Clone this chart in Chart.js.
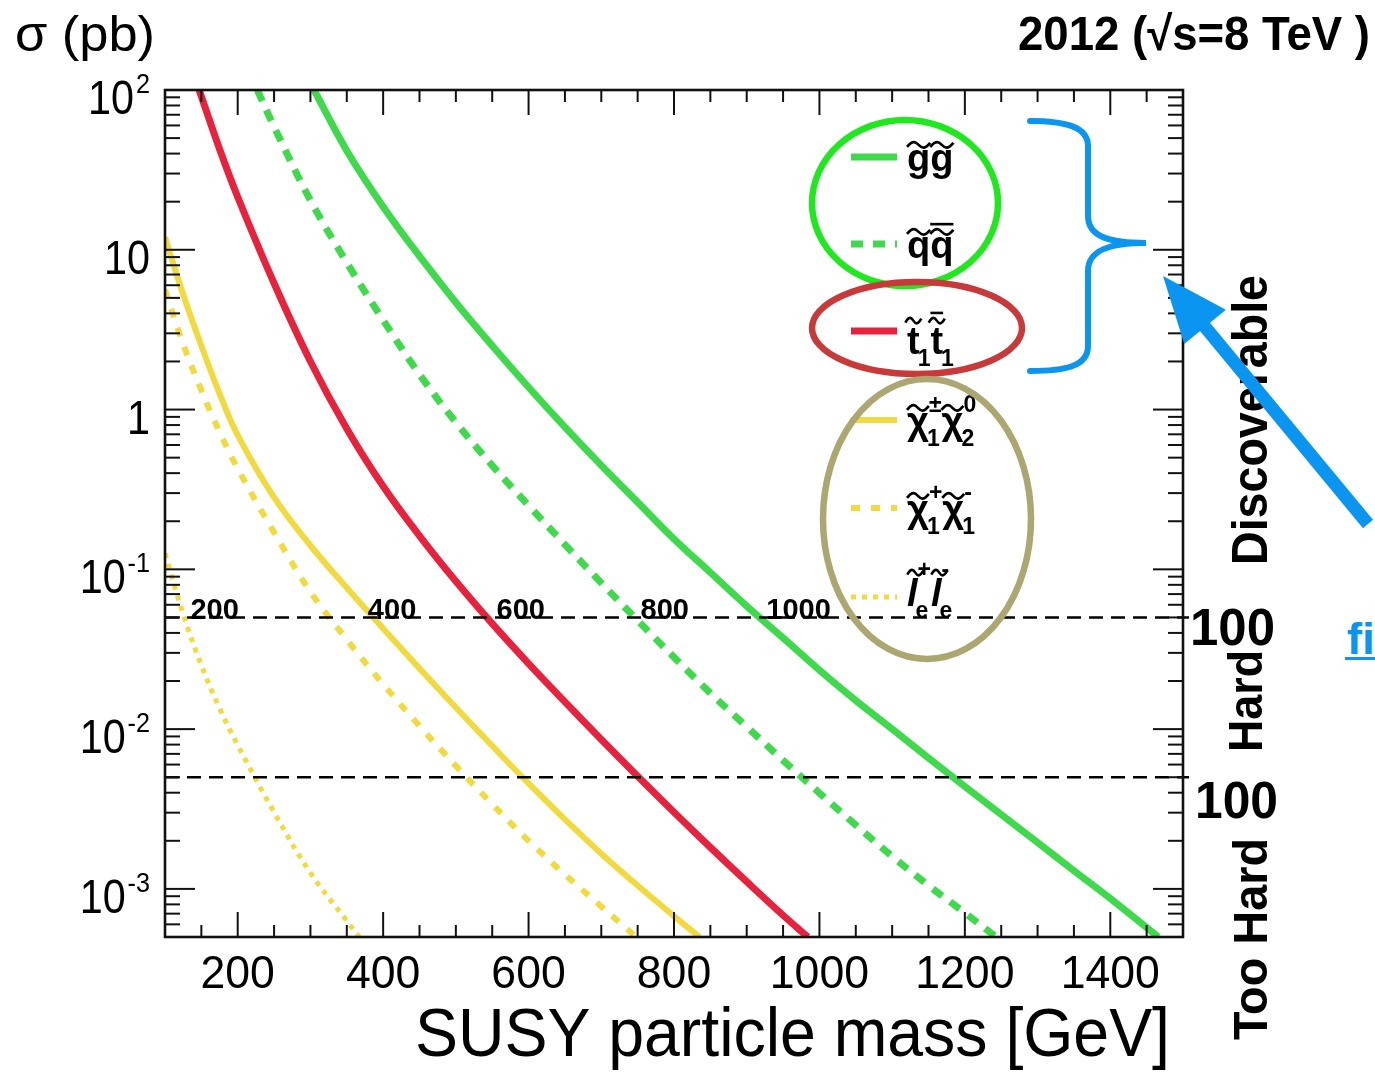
<!DOCTYPE html>
<html>
<head>
<meta charset="utf-8">
<script src="https://cdn.jsdelivr.net/npm/chart.js@4.4.1/dist/chart.umd.min.js"></script>
<style>
  html, body { margin: 0; padding: 0; background: #fff; }
  canvas { display: block; }
</style>
</head>
<body>
<canvas id="c" width="1375" height="1074"></canvas>
<script>
// cross sections (pb) vs SUSY particle mass (GeV)
const gluinoMass  = [305, 350, 400, 450, 500, 550, 600, 650, 700, 750, 800, 850, 900, 950, 1000,
                     1050, 1100, 1150, 1200, 1250, 1300, 1350, 1400, 1466];
const gluinoXsec  = [100, 41.7, 18.6, 9.12, 4.68, 2.51, 1.38, 0.776, 0.447, 0.263, 0.155, 0.0955, 0.0589,
                     0.0372, 0.0234, 0.0151, 0.01, 0.0066, 0.00437, 0.00292, 0.00195, 0.0013, 0.00087, 0.0005];

const squarkMass  = [227, 250, 300, 350, 400, 450, 500, 550, 600, 650, 700, 750, 800, 850, 900, 950,
                     1000, 1050, 1100, 1150, 1200, 1243];
const squarkXsec  = [100, 58.9, 20.4, 8.32, 3.63, 1.66, 0.832, 0.447, 0.251, 0.143, 0.0822, 0.0479, 0.0282,
                     0.0168, 0.01035, 0.00638, 0.00398, 0.00251, 0.0016, 0.00105, 0.000708, 0.0005];

const stopMass    = [147, 175, 200, 250, 300, 350, 400, 450, 500, 550, 600, 650, 700, 750, 800, 850,
                     900, 950, 984];
const stopXsec    = [100, 42.7, 21.4, 6.17, 2.0, 0.759, 0.331, 0.162, 0.0841, 0.0457, 0.0257, 0.0148,
                     0.00861, 0.00507, 0.00302, 0.00182, 0.00111, 0.000684, 0.0005];

const c1n2Mass    = [100, 125, 150, 175, 200, 250, 300, 350, 400, 450, 500, 550, 600, 650, 700, 750, 800, 835];
const c1n2Xsec    = [12.0, 5.25, 2.51, 1.26, 0.692, 0.282, 0.141, 0.0767, 0.0427, 0.024, 0.01365, 0.00785,
                     0.00457, 0.00272, 0.00166, 0.00105, 0.000676, 0.0005];

const c1c1Mass    = [100, 125, 150, 175, 200, 250, 300, 350, 400, 450, 500, 550, 600, 650, 700, 748];
const c1c1Xsec    = [5.62, 2.57, 1.32, 0.724, 0.427, 0.17, 0.0724, 0.0363, 0.0191, 0.01047, 0.00589,
                     0.00339, 0.002, 0.00123, 0.000776, 0.0005];

const sleptonMass = [100, 125, 150, 175, 200, 250, 300, 350, 367];
const sleptonXsec = [0.126, 0.0525, 0.0251, 0.0135, 0.00794, 0.00302, 0.00126, 0.000631, 0.0005];

// axis ticks
const xTickVals = [200, 400, 600, 800, 1000, 1200, 1400];
const yTickVals = [100, 10, 1, 0.1, 0.01, 0.001];
const yTickMain = ['10', '10', '1', '10', '10', '10'];
const yTickSup  = ['2', '', '', '-1', '-2', '-3'];

// reach lines and their labels
const thresholds = [0.05, 0.005];
const reachText  = ['200', '400', '600', '800', '1000'];
const reachMass  = [135, 379, 556, 754, 927];

const GREEN = '#3fd94c';
const RED = '#e8213d';
const YELLOW = '#f2da3e';
const BLUE = '#0a96f0';
const FONT = '"Liberation Sans", Arial, Helvetica, sans-serif';

const series = [
  { label: 'g̃g̃', mass: gluinoMass, xsec: gluinoXsec, color: GREEN, width: 7, dash: [] },
  { label: 'q̃q̃̄', mass: squarkMass, xsec: squarkXsec, color: GREEN, width: 7, dash: [12, 10] },
  { label: 't̃1t̃̄1', mass: stopMass, xsec: stopXsec, color: RED, width: 7, dash: [] },
  { label: 'χ̃1±χ̃20', mass: c1n2Mass, xsec: c1n2Xsec, color: YELLOW, width: 6, dash: [] },
  { label: 'χ̃1+χ̃1-', mass: c1c1Mass, xsec: c1c1Xsec, color: YELLOW, width: 6, dash: [9, 11] },
  { label: 'l̃e+l̃e-', mass: sleptonMass, xsec: sleptonXsec, color: YELLOW, width: 5, dash: [5, 6] }
];

// legend entries (drawn by hand, ROOT style)
const legendItems = [
  { y: 157, base: 171, s: 0, parts: [{ c: 'g', tl: 1 }, { c: 'g', tl: 1 }] },
  { y: 244, base: 258, s: 1, parts: [{ c: 'q', tl: 1 }, { c: 'q', tl: 1, bar: 1 }] },
  { y: 331, base: 354, s: 2, parts: [{ c: 't', tl: 1, tall: 1, sub: '1' }, { c: 't', tl: 1, tall: 1, bar: 1, sub: '1' }] },
  { y: 420, base: 434, s: 3, parts: [{ c: 'χ', tl: 1, sub: '1', sup: '±' }, { c: 'χ', tl: 1, sub: '2', sup: '0' }] },
  { y: 508, base: 522, s: 4, parts: [{ c: 'χ', tl: 1, sub: '1', sup: '+' }, { c: 'χ', tl: 1, sub: '1', sup: '-' }] },
  { y: 597, base: 606, s: 5, parts: [{ c: 'l', tl: 1, tall: 1, it: 1, sub: 'e', sup: '+' }, { c: 'l', tl: 1, tall: 1, it: 1, sub: 'e', sup: '-' }] }
];

function fitText(ctx, text, left, baseline, width, font, color) {
  ctx.save();
  ctx.font = font;
  ctx.fillStyle = color || '#000';
  ctx.textAlign = 'left';
  ctx.textBaseline = 'alphabetic';
  const w = ctx.measureText(text).width;
  ctx.translate(left, baseline);
  ctx.scale(width / w, 1);
  ctx.fillText(text, 0, 0);
  ctx.restore();
}

function rotText(ctx, text, baseX, startY, endY, font) {
  ctx.save();
  ctx.font = font;
  ctx.fillStyle = '#000';
  const w = ctx.measureText(text).width;
  ctx.translate(baseX, startY);
  ctx.rotate(-Math.PI / 2);
  ctx.scale((startY - endY) / w, 1);
  ctx.fillText(text, 0, 0);
  ctx.restore();
}

function seg(ctx, x1, y1, x2, y2) {
  ctx.beginPath();
  ctx.moveTo(x1, y1);
  ctx.lineTo(x2, y2);
  ctx.stroke();
}

function drawTilde(ctx, cx, cy, w) {
  ctx.beginPath();
  ctx.moveTo(cx - w / 2, cy + 2);
  ctx.bezierCurveTo(cx - w / 4, cy - 5, cx - w / 8, cy - 3, cx, cy);
  ctx.bezierCurveTo(cx + w / 8, cy + 3, cx + w / 4, cy + 5, cx + w / 2, cy - 2);
  ctx.stroke();
}

function drawSusy(ctx, x, base, parts, fs) {
  let cx = x;
  ctx.fillStyle = '#000';
  ctx.strokeStyle = '#000';
  ctx.lineWidth = 2.6;
  parts.forEach(p => {
    ctx.font = (p.it ? 'italic ' : '') + 'bold ' + fs + 'px ' + FONT;
    const w = ctx.measureText(p.c).width;
    ctx.fillText(p.c, cx, base);
    const top = base - (p.tall ? 0.72 : 0.53) * fs;
    const mid = cx + w / 2 + (p.it ? 3 : 0);
    if (p.tl) drawTilde(ctx, mid, top - 6, Math.max(w, 16));
    if (p.bar) ctx.fillRect(mid - w / 2, top - 15, w, 2.6);
    ctx.font = 'bold ' + Math.round(fs * 0.6) + 'px ' + FONT;
    let adv = 0;
    if (p.sup) {
      ctx.fillText(p.sup, cx + w, top - 2);
      adv = Math.max(adv, ctx.measureText(p.sup).width);
    }
    if (p.sub) {
      ctx.fillText(p.sub, cx + w - 2, base + 0.32 * fs);
      adv = Math.max(adv, ctx.measureText(p.sub).width - 2);
    }
    cx += w + adv;
  });
}

const susyPlugin = {
  id: 'susy',
  afterDatasetsDraw(chart) {
    const { ctx, chartArea: a, scales: { x, y } } = chart;
    ctx.save();

    // reach lines
    ctx.strokeStyle = '#000';
    ctx.lineWidth = 2.4;
    ctx.setLineDash([14, 8]);
    thresholds.forEach(t => {
      const py = y.getPixelForValue(t);
      seg(ctx, a.left, py, a.right + 6, py);
    });
    ctx.setLineDash([]);

    ctx.fillStyle = '#000';
    ctx.font = 'bold 29px ' + FONT;
    const ly = y.getPixelForValue(thresholds[0]) + 2;
    reachText.forEach((t, i) => ctx.fillText(t, x.getPixelForValue(reachMass[i]), ly));

    // frame and inward ticks
    ctx.strokeStyle = '#111';
    ctx.lineWidth = 2;
    for (let m = 100; m <= 1500; m += 50) {
      const px = x.getPixelForValue(m);
      const len = m % 200 === 0 ? 25 : 12;
      seg(ctx, px, a.bottom, px, a.bottom - len);
      seg(ctx, px, a.top, px, a.top + len);
    }
    for (let e = -4; e <= 2; e++) {
      for (let k = 1; k <= 9; k++) {
        const v = k * Math.pow(10, e);
        if (v < 0.0005 * 0.999 || v > 100 * 1.001) continue;
        const py = y.getPixelForValue(v);
        const len = k === 1 ? 30 : 15;
        seg(ctx, a.left, py, a.left + len, py);
        seg(ctx, a.right, py, a.right - len, py);
      }
    }
    ctx.lineWidth = 2.6;
    ctx.strokeRect(a.left, a.top, a.right - a.left, a.bottom - a.top);

    // tick labels
    ctx.fillStyle = '#000';
    ctx.textBaseline = 'alphabetic';
    xTickVals.forEach(v => {
      const px = x.getPixelForValue(v);
      ctx.font = '46px ' + FONT;
      const w = ctx.measureText(String(v)).width * 0.97;
      fitText(ctx, String(v), px - w / 2, 988, w, '46px ' + FONT);
    });
    yTickVals.forEach((v, i) => {
      const py = y.getPixelForValue(v);
      let right = 150;
      if (yTickSup[i]) {
        ctx.font = '28px ' + FONT;
        const sw = ctx.measureText(yTickSup[i]).width * 0.9;
        fitText(ctx, yTickSup[i], right - sw, py + 3, sw, '28px ' + FONT);
        right -= sw + 2;
      }
      ctx.font = '48px ' + FONT;
      const mw = ctx.measureText(yTickMain[i]).width * 0.86;
      fitText(ctx, yTickMain[i], right - mw, py + 24, mw, '48px ' + FONT);
    });

    // legend samples and labels
    legendItems.forEach(it => {
      const s = series[it.s];
      ctx.strokeStyle = s.color;
      ctx.lineWidth = s.width;
      ctx.setLineDash(s.dash);
      ctx.lineCap = 'butt';
      seg(ctx, 851, it.y, 897, it.y);
      ctx.setLineDash([]);
      drawSusy(ctx, 907, it.base, it.parts, 38);
    });

    // highlight ellipses
    ctx.lineWidth = 6.5;
    ctx.strokeStyle = '#1fe81f';
    ctx.beginPath(); ctx.ellipse(905, 203, 93, 83, 0, 0, Math.PI * 2); ctx.stroke();
    ctx.strokeStyle = '#c8393a';
    ctx.beginPath(); ctx.ellipse(917, 328, 105, 46, 0, 0, Math.PI * 2); ctx.stroke();
    ctx.strokeStyle = '#aca670';
    ctx.beginPath(); ctx.ellipse(927, 519, 104, 140, 0, 0, Math.PI * 2); ctx.stroke();

    ctx.restore();
  },
  afterDraw(chart) {
    const ctx = chart.ctx;
    ctx.save();
    fitText(ctx, 'σ (pb)', 15, 51, 140, '50px ' + FONT);
    fitText(ctx, '2012 (√s=8 TeV )', 1018, 50, 352, 'bold 48px ' + FONT);
    fitText(ctx, 'SUSY particle mass [GeV]', 415, 1056, 755, '68px ' + FONT);

    fitText(ctx, '100', 1190, 645, 85, 'bold 52px ' + FONT);
    fitText(ctx, '100', 1195, 818, 83, 'bold 52px ' + FONT);
    rotText(ctx, 'Discoverable', 1267, 565, 275, 'bold 50px ' + FONT);
    rotText(ctx, 'Hard', 1262, 752, 650, 'bold 48px ' + FONT);
    rotText(ctx, 'Too Hard', 1267, 1040, 838, 'bold 48px ' + FONT);

    // link stub at the right edge
    fitText(ctx, 'fi', 1347, 654, 28, 'bold 44px ' + FONT, BLUE);
    ctx.fillStyle = BLUE;
    ctx.fillRect(1345, 657, 30, 3);

    // brace
    ctx.strokeStyle = BLUE;
    ctx.lineWidth = 6;
    ctx.lineCap = 'round';
    ctx.beginPath();
    ctx.moveTo(1030, 121);
    ctx.bezierCurveTo(1066, 121, 1088, 127, 1088, 146);
    ctx.lineTo(1088, 216);
    ctx.bezierCurveTo(1088, 237, 1110, 243, 1146, 243);
    ctx.bezierCurveTo(1110, 243, 1088, 250, 1088, 271);
    ctx.lineTo(1088, 346);
    ctx.bezierCurveTo(1088, 366, 1066, 371, 1030, 371);
    ctx.stroke();

    // arrow
    const tip = [1163, 276], tail = [1368, 524];
    const dx = tip[0] - tail[0], dy = tip[1] - tail[1];
    const L = Math.hypot(dx, dy), ux = dx / L, uy = dy / L;
    const hb = [tip[0] - ux * 66, tip[1] - uy * 66];
    ctx.lineCap = 'butt';
    ctx.lineWidth = 13;
    seg(ctx, tail[0], tail[1], hb[0] + ux * 4, hb[1] + uy * 4);
    ctx.fillStyle = BLUE;
    ctx.beginPath();
    ctx.moveTo(tip[0], tip[1]);
    ctx.lineTo(hb[0] - uy * 27, hb[1] + ux * 27);
    ctx.lineTo(hb[0] + uy * 27, hb[1] - ux * 27);
    ctx.closePath();
    ctx.fill();
    ctx.restore();
  }
};

const datasets = series.map(s => ({
  label: s.label,
  data: s.mass.map((m, i) => ({ x: m, y: s.xsec[i] })),
  borderColor: s.color,
  borderWidth: s.width,
  borderDash: s.dash,
  borderCapStyle: 'butt',
  borderJoinStyle: 'round',
  pointRadius: 0,
  fill: false,
  tension: 0.4
}));

new Chart(document.getElementById('c'), {
  type: 'line',
  data: { datasets },
  options: {
    responsive: false,
    animation: false,
    events: [],
    layout: { padding: { left: 165, top: 90, right: 192, bottom: 137 } },
    plugins: { legend: { display: false }, tooltip: { enabled: false } },
    scales: {
      x: { type: 'linear', min: 100, max: 1500, display: false },
      y: { type: 'logarithmic', min: 0.0005, max: 100, display: false }
    }
  },
  plugins: [susyPlugin]
});
</script>
</body>
</html>
